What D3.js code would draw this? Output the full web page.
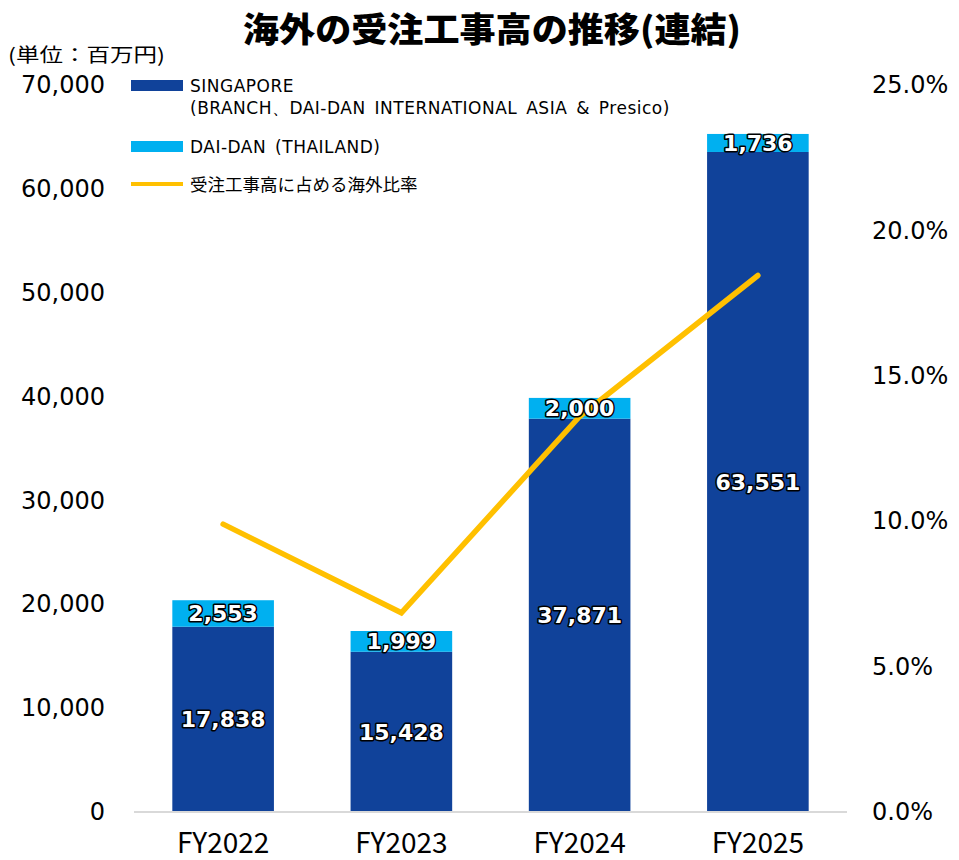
<!DOCTYPE html>
<html>
<head>
<meta charset="utf-8">
<script src="https://cdn.jsdelivr.net/npm/d3@7"></script>
<style>
  body { margin: 0; background: #fff; }
  svg { display: block; }
</style>
</head>
<body>
<div id="chart"></div>
<script>
// data
const years = ["FY2022", "FY2023", "FY2024", "FY2025"];
const singapore = [17838, 15428, 37871, 63551];
const thailand = [2553, 1999, 2000, 1736];
const overseasRatio = [9.9, 6.85, 13.6, 18.45];
const leftTicks = [0, 10000, 20000, 30000, 40000, 50000, 60000, 70000];
const rightTicks = [0, 5, 10, 15, 20, 25];

const W = 959, H = 860;
const darkBlue = "#10429A", lightBlue = "#00B0F0", gold = "#FFC000";
const numFont = "'DejaVu Sans', Verdana, sans-serif";
const narrowFont = "'Liberation Sans Narrow', 'Noto Sans CJK JP', sans-serif";

const svg = d3.select("#chart").append("svg")
  .attr("width", W).attr("height", H);

// scales
const x = d3.scaleBand().domain(years).range([134, 847])
  .paddingInner(0.43).paddingOuter(0.215);
const y = d3.scaleLinear().domain([0, 70000]).range([812, 85]);
const y2 = d3.scaleLinear().domain([0, 25]).range([812, 85]);

// title
svg.append("text")
  .attr("x", 492).attr("y", 42)
  .attr("text-anchor", "middle")
  .attr("textLength", 498).attr("lengthAdjust", "spacingAndGlyphs")
  .style("font-family", "'Noto Sans CJK JP', sans-serif")
  .style("font-weight", 900).style("font-size", "34px")
  .text("海外の受注工事高の推移(連結)");

svg.append("text")
  .attr("x", 8).attr("y", 62)
  .attr("textLength", 157).attr("lengthAdjust", "spacingAndGlyphs")
  .style("font-family", "'Noto Sans CJK JP', sans-serif")
  .style("font-size", "19px")
  .text("(単位：百万円)");

// axes
const leftAxis = d3.axisLeft(y).tickValues(leftTicks)
  .tickFormat(d3.format(",")).tickSize(0).tickPadding(0);
svg.append("g").attr("transform", "translate(105,0)")
  .call(leftAxis)
  .call(g => g.select(".domain").remove())
  .selectAll("text")
  .style("font-family", numFont).style("font-size", "24px").attr("fill", "#000");

const rightAxis = d3.axisRight(y2).tickValues(rightTicks)
  .tickFormat(d => d.toFixed(1) + "%").tickSize(0).tickPadding(0);
svg.append("g").attr("transform", "translate(872,0)")
  .call(rightAxis)
  .call(g => g.select(".domain").remove())
  .selectAll("text")
  .style("font-family", numFont).style("font-size", "24px").attr("fill", "#000");

// stacked bars
const rows = years.map((yr, i) => ({ year: yr, sg: singapore[i], th: thailand[i] }));
const stack = d3.stack().keys(["sg", "th"])(rows);
const colors = { sg: darkBlue, th: lightBlue };

const layers = svg.append("g").selectAll("g")
  .data(stack).enter().append("g")
  .attr("fill", d => colors[d.key]);

layers.selectAll("rect")
  .data(d => d).enter().append("rect")
  .attr("x", d => x(d.data.year))
  .attr("width", x.bandwidth())
  .attr("y", d => y(d[1]))
  .attr("height", d => y(d[0]) - y(d[1]));

// baseline
svg.append("line")
  .attr("x1", 134).attr("x2", 847)
  .attr("y1", y(0)).attr("y2", y(0))
  .attr("stroke", "#D9D9D9").attr("stroke-width", 2);

// category labels
svg.append("g").selectAll("text")
  .data(years).enter().append("text")
  .attr("x", d => x(d) + x.bandwidth() / 2)
  .attr("y", 853)
  .attr("text-anchor", "middle")
  .style("font-family", narrowFont).style("font-size", "28px")
  .text(d => d);

// ratio line
const line = d3.line()
  .x((d, i) => x(years[i]) + x.bandwidth() / 2)
  .y(d => y2(d));
svg.append("path")
  .datum(overseasRatio)
  .attr("d", line)
  .attr("fill", "none")
  .attr("stroke", gold).attr("stroke-width", 5.5)
  .attr("stroke-linecap", "round").attr("stroke-linejoin", "miter");

// value labels
stack.forEach(layer => {
  svg.append("g").selectAll("text")
    .data(layer).enter().append("text")
    .attr("x", d => x(d.data.year) + x.bandwidth() / 2)
    .attr("y", d => y((d[0] + d[1]) / 2))
    .attr("dy", "0.36em")
    .attr("text-anchor", "middle")
    .style("font-family", numFont).style("font-weight", "bold")
    .style("font-size", "22px")
    .attr("fill", "#fff").attr("stroke", "#000").attr("stroke-width", 3)
    .attr("stroke-linejoin", "round").style("paint-order", "stroke")
    .text(d => d3.format(",")(d.data[layer.key]));
});

// legend
const legend = svg.append("g")
  .style("font-family", numFont).style("font-size", "17px")
  .style("letter-spacing", "0.5px").style("word-spacing", "3px");
legend.append("rect").attr("x", 131).attr("y", 80).attr("width", 52).attr("height", 11).attr("fill", darkBlue);
legend.append("text").attr("x", 190).attr("y", 92).text("SINGAPORE");
legend.append("text").attr("x", 190).attr("y", 114).text("(BRANCH、DAI-DAN INTERNATIONAL ASIA & Presico)");
legend.append("rect").attr("x", 131).attr("y", 141).attr("width", 52).attr("height", 11).attr("fill", lightBlue);
legend.append("text").attr("x", 190).attr("y", 153).text("DAI-DAN (THAILAND)");
legend.append("line").attr("x1", 131).attr("x2", 183).attr("y1", 184).attr("y2", 184)
  .attr("stroke", gold).attr("stroke-width", 4);
legend.append("text").attr("x", 190).attr("y", 191)
  .style("font-family", "'Noto Sans CJK JP', sans-serif").style("font-size", "17.5px")
  .style("letter-spacing", "0px")
  .text("受注工事高に占める海外比率");
</script>
</body>
</html>
